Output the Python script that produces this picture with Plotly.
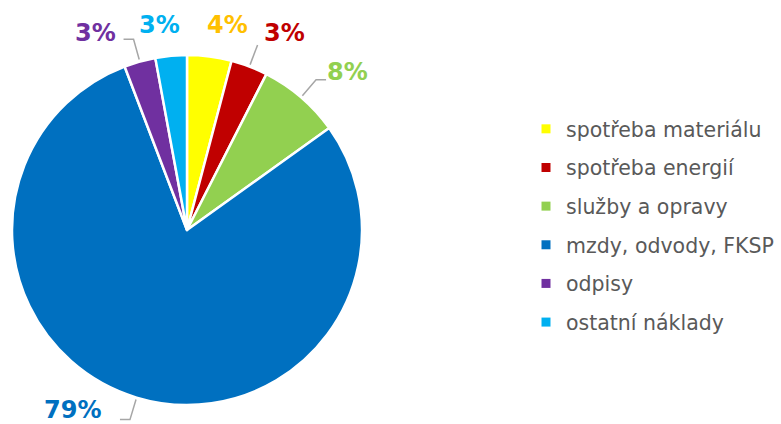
import math
import plotly.graph_objects as go

categories = ["spotřeba materiálu", "spotřeba energií", "služby a opravy",
              "mzdy, odvody, FKSP", "odpisy", "ostatní náklady"]
values = [4.1, 3.4, 7.6, 79.1, 2.9, 2.9]

# styles
slice_colors = ["#FFFF00", "#C00000", "#92D050", "#0070C0", "#7030A0", "#00B0F0"]
label_colors = ["#FFC000", "#C00000", "#92D050", "#0070C0", "#7030A0", "#00B0F0"]
label_nudge_deg = [3.9, 5.5, 4.7, 15.8, -9.3, -2.3]
label_dist = [209, 220, 225, 213, 217, 207]
leader_kind = [None, "radial", "elbow", "elbow", "elbow", None]

W, H = 781, 424
CX, CY, R = 187, 230, 175


def paper(x, y):
    return x / W, 1 - y / H


def pt(angle_deg, dist):
    a = math.radians(angle_deg)
    return CX + dist * math.sin(a), CY - dist * math.cos(a)


fig = go.Figure()
fig.add_trace(go.Pie(
    labels=categories, values=values, sort=False, direction="clockwise",
    rotation=0, marker=dict(colors=slice_colors, line=dict(color="white", width=2.5)),
    textinfo="none", hoverinfo="label+percent", showlegend=False,
    domain=dict(x=[(CX - R) / W, (CX + R) / W], y=[1 - (CY + R) / H, 1 - (CY - R) / H]),
))

# legend entries
for cat, col in zip(categories, slice_colors):
    fig.add_trace(go.Scatter(
        x=[None], y=[None], mode="markers", name=cat, legendgroup=cat,
        marker=dict(symbol="square", size=9, color=col),
    ))

total = sum(values)
cum = 0.0
annotations = []
shapes = []
for i, v in enumerate(values):
    mid = (cum + v / 2) / total * 360
    cum += v
    ang = mid + label_nudge_deg[i]
    tx, ty = pt(ang, label_dist[i])
    annotations.append(dict(
        x=paper(tx, ty)[0], y=paper(tx, ty)[1], xref="paper", yref="paper",
        text=f"<b>{round(v / total * 100)}%</b>", showarrow=False,
        xanchor="center", yanchor="middle", borderpad=0,
        font=dict(family="DejaVu Sans", size=24, color=label_colors[i]),
    ))
    if leader_kind[i]:
        sx, sy = pt(mid, R + 2)
        ex, ey = pt(mid, R + 23)
        pts = [(sx, sy), (ex, ey)]
        if leader_kind[i] == "elbow":
            side = 1 if math.sin(math.radians(mid)) > 0 else -1
            pts.append((ex + side * 10, ey))
        path = "M " + " L ".join(f"{paper(x, y)[0]},{paper(x, y)[1]}" for x, y in pts)
        shapes.append(dict(type="path", path=path, xref="paper", yref="paper",
                           line=dict(color="#A6A6A6", width=1.5)))

fig.update_layout(
    width=W, height=H, margin=dict(l=0, r=0, t=0, b=0),
    paper_bgcolor="white", plot_bgcolor="white",
    xaxis=dict(visible=False), yaxis=dict(visible=False),
    annotations=annotations, shapes=shapes,
    legend=dict(x=526 / W, y=1 - 109 / H, xanchor="left", yanchor="top",
                font=dict(family="DejaVu Sans", size=20.5, color="#595959"),
                tracegroupgap=9, bgcolor="rgba(0,0,0,0)"),
)
fig.write_html("out.html", config={"displayModeBar": False},
               post_script="document.body.style.margin='0';")
